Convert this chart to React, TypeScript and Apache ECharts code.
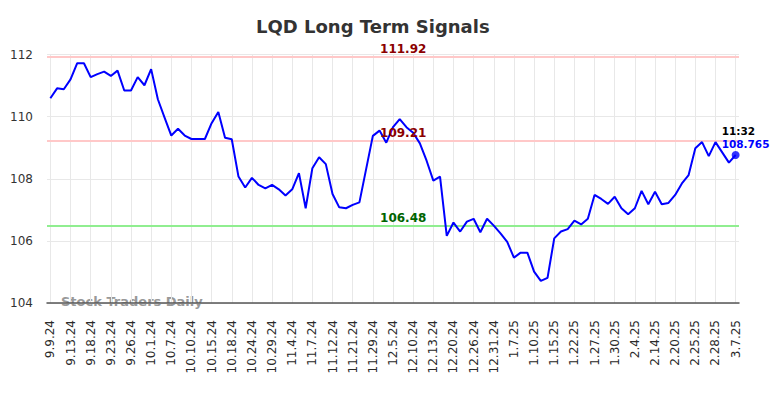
import React, { useEffect, useRef } from "react";
import * as echarts from "echarts";

const categories: string[] = [
  "9.9.24", "9.10.24", "9.12.24", "9.13.24", "9.16.24", "9.17.24", "9.18.24", "9.19.24", "9.20.24", "9.23.24",
  "9.24.24", "9.25.24", "9.26.24", "9.27.24", "9.30.24", "10.1.24", "10.3.24", "10.4.24", "10.7.24", "10.8.24",
  "10.9.24", "10.10.24", "10.11.24", "10.14.24", "10.15.24", "10.16.24", "10.17.24", "10.18.24", "10.22.24", "10.23.24",
  "10.24.24", "10.25.24", "10.28.24", "10.29.24", "10.31.24", "11.1.24", "11.4.24", "11.5.24", "11.6.24", "11.7.24",
  "11.8.24", "11.11.24", "11.12.24", "11.14.24", "11.18.24", "11.21.24", "11.25.24", "11.27.24", "11.29.24", "12.2.24",
  "12.4.24", "12.5.24", "12.6.24", "12.9.24", "12.10.24", "12.11.24", "12.12.24", "12.13.24", "12.17.24", "12.18.24",
  "12.20.24", "12.23.24", "12.24.24", "12.26.24", "12.27.24", "12.30.24", "12.31.24", "1.2.25", "1.6.25", "1.7.25",
  "1.8.25", "1.9.25", "1.10.25", "1.13.25", "1.14.25", "1.15.25", "1.16.25", "1.21.25", "1.22.25", "1.23.25",
  "1.24.25", "1.27.25", "1.28.25", "1.29.25", "1.30.25", "1.31.25", "2.3.25", "2.4.25", "2.6.25", "2.11.25",
  "2.14.25", "2.18.25", "2.19.25", "2.20.25", "2.21.25", "2.24.25", "2.25.25", "2.26.25", "2.27.25", "2.28.25",
  "3.3.25", "3.5.25", "3.7.25",
];

const prices: number[] = [
  110.59, 110.91, 110.88, 111.2, 111.72, 111.72, 111.27, 111.37, 111.45, 111.31,
  111.48, 110.84, 110.84, 111.27, 111.01, 111.53, 110.56, 109.97, 109.39, 109.61,
  109.39, 109.28, 109.28, 109.28, 109.79, 110.15, 109.32, 109.27, 108.07, 107.72,
  108.03, 107.8, 107.69, 107.8, 107.66, 107.46, 107.66, 108.18, 107.05, 108.34,
  108.69, 108.47, 107.51, 107.08, 107.05, 107.16, 107.24, 108.31, 109.38, 109.55,
  109.16, 109.66, 109.92, 109.66, 109.48, 109.14, 108.58, 107.94, 108.07, 106.16,
  106.59, 106.3, 106.62, 106.71, 106.28, 106.71, 106.49, 106.24, 105.97, 105.46,
  105.62, 105.62, 105.01, 104.71, 104.81, 106.08, 106.3, 106.38, 106.65, 106.53,
  106.71, 107.48, 107.35, 107.19, 107.42, 107.05, 106.86, 107.05, 107.61, 107.18,
  107.58, 107.18, 107.22, 107.48, 107.85, 108.12, 108.98, 109.18, 108.73, 109.18,
  108.85, 108.52, 108.765,
];

const upperSignal = 111.92;
const middleSignal = 109.21;
const lowerSignal = 106.48;
const lastTime = "11:32";
const yTicks: number[] = [104, 106, 108, 110, 112];

const FONT = "DejaVu Sans";

export default function App() {
  const ref = useRef<HTMLDivElement>(null);

  useEffect(() => {
    if (!ref.current) return;
    const chart = echarts.init(ref.current, null, { renderer: "svg" });
    const lastIdx = prices.length - 1;
    const lastVal = prices[lastIdx];
    const labelIdx = 52;
    const yMin = yTicks[0];
    const yMax = yTicks[yTicks.length - 1];

    const option: any = {
      animation: false,
      backgroundColor: "#ffffff",
      textStyle: { fontFamily: FONT },
      title: {
        text: "LQD Long Term Signals",
        left: 251,
        top: 12,
        textStyle: { fontFamily: FONT, fontSize: 18, fontWeight: "bold", color: "#333333" },
      },
      grid: [
        { left: 47, right: 45, top: 54.5, bottom: 95, containLabel: false },
        { left: 50.36, right: 48.36, top: 54.5, bottom: 95, containLabel: false },
      ],
      xAxis: [
        {
          type: "category",
          gridIndex: 0,
          data: categories,
          boundaryGap: true,
          axisLine: { show: true, lineStyle: { color: "#555555", width: 1.5 } },
          axisTick: { show: false },
          splitLine: { show: false },
          axisLabel: {
            interval: 2,
            rotate: 90,
            fontSize: 12,
            fontFamily: FONT,
            color: "#2a2a2a",
            margin: 17,
          },
        },
        {
          type: "category",
          gridIndex: 1,
          data: categories,
          boundaryGap: false,
          axisLine: { show: false },
          axisTick: { show: false },
          axisLabel: { show: false },
          splitLine: { show: true, interval: 2, lineStyle: { color: "#e8e8e8", width: 1 } },
        },
      ],
      yAxis: [
        {
          type: "value",
          gridIndex: 0,
          min: yMin,
          max: yMax,
          interval: 2,
          axisLine: { show: false },
          axisTick: { show: false },
          splitLine: { show: true, lineStyle: { color: "#e8e8e8", width: 1 } },
          axisLabel: { fontSize: 12, fontFamily: FONT, color: "#333333", margin: 14 },
        },
        {
          type: "value",
          gridIndex: 1,
          min: yMin,
          max: yMax,
          show: false,
        },
      ],
      graphic: [
        {
          type: "text",
          left: 61,
          top: 295,
          z: 0,
          style: {
            text: "Stock Traders Daily",
            fill: "#999999",
            font: `bold 13px "${FONT}"`,
          },
        },
      ],
      series: [
        {
          type: "line",
          xAxisIndex: 0,
          yAxisIndex: 0,
          data: prices,
          showSymbol: false,
          symbol: "none",
          lineStyle: { color: "#0000ff", width: 2 },
          z: 5,
          markLine: {
            silent: true,
            symbol: ["none", "none"],
            label: { show: false },
            z: 3,
            data: [
              { yAxis: upperSignal, lineStyle: { color: "#ffc8c8", width: 2, type: "solid" } },
              { yAxis: middleSignal, lineStyle: { color: "#ffc8c8", width: 2, type: "solid" } },
              { yAxis: lowerSignal, lineStyle: { color: "#90ee90", width: 2, type: "solid" } },
            ],
          },
          markPoint: {
            silent: true,
            symbol: "circle",
            symbolSize: 0,
            z: 10,
            data: [
              {
                coord: [labelIdx, upperSignal],
                label: {
                  show: true, position: "inside", offset: [3.5, -8.3],
                  formatter: upperSignal.toFixed(2),
                  fontFamily: FONT, fontSize: 12, fontWeight: "bold", color: "#8b0000",
                },
              },
              {
                coord: [labelIdx, middleSignal],
                label: {
                  show: true, position: "inside", offset: [3.5, -8.3],
                  formatter: middleSignal.toFixed(2),
                  fontFamily: FONT, fontSize: 12, fontWeight: "bold", color: "#8b0000",
                },
              },
              {
                coord: [labelIdx, lowerSignal],
                label: {
                  show: true, position: "inside", offset: [3.5, -8.3],
                  formatter: lowerSignal.toFixed(2),
                  fontFamily: FONT, fontSize: 12, fontWeight: "bold", color: "#006400",
                },
              },
              {
                coord: [lastIdx, lastVal],
                label: {
                  show: true, position: "inside", align: "left", offset: [-14, -24],
                  formatter: lastTime,
                  fontFamily: FONT, fontSize: 10.5, fontWeight: "bold", color: "#000000",
                },
              },
              {
                coord: [lastIdx, lastVal],
                label: {
                  show: true, position: "inside", align: "left", offset: [-14, -11],
                  formatter: String(lastVal),
                  fontFamily: FONT, fontSize: 10.5, fontWeight: "bold", color: "#0000ff",
                },
              },
            ],
          },
        },
        {
          type: "scatter",
          xAxisIndex: 0,
          yAxisIndex: 0,
          data: [[lastIdx, lastVal]],
          symbol: "circle",
          symbolSize: 8,
          itemStyle: { color: "#0000ff" },
          z: 6,
          silent: true,
        },
      ],
    };

    chart.setOption(option);
    return () => {
      chart.dispose();
    };
  }, []);

  return (
    <div
      ref={ref}
      style={{ position: "fixed", left: 0, top: 0, width: 784, height: 398, background: "#fff" }}
    />
  );
}
